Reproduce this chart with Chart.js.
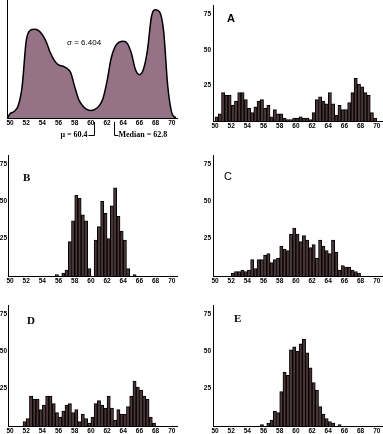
<!DOCTYPE html>
<html>
<head>
<meta charset="utf-8">
<script src="https://cdn.jsdelivr.net/npm/chart.js@4.4.0/dist/chart.umd.min.js"></script>
<style>
body { margin: 0; background: #fff; }
#wrap { position: relative; width: 383px; height: 434px; overflow: hidden; }
canvas { position: absolute; }
</style>
</head>
<body>
<div id="wrap">
<canvas id="dens" width="192" height="145" style="left:0;top:0"></canvas>
<canvas id="histA" width="191" height="145" style="left:192px;top:0"></canvas>
<canvas id="histB" width="192" height="145" style="left:0;top:145px"></canvas>
<canvas id="histC" width="191" height="145" style="left:192px;top:145px"></canvas>
<canvas id="histD" width="192" height="144" style="left:0;top:290px"></canvas>
<canvas id="histE" width="191" height="144" style="left:192px;top:290px"></canvas>
</div>
<script>
var xTicks = [50, 52, 54, 56, 58, 60, 62, 64, 66, 68, 70];
var yTicks = [25, 50, 75];

// histogram bins (0.4 wide), centres
var binCenters = [50.2, 50.6, 51.0, 51.4, 51.8, 52.2, 52.6, 53.0, 53.4, 53.8,
  54.2, 54.6, 55.0, 55.4, 55.8, 56.2, 56.6, 57.0, 57.4, 57.8,
  58.2, 58.6, 59.0, 59.4, 59.8, 60.2, 60.6, 61.0, 61.4, 61.8,
  62.2, 62.6, 63.0, 63.4, 63.8, 64.2, 64.6, 65.0, 65.4, 65.8,
  66.2, 66.6, 67.0, 67.4, 67.8, 68.2, 68.6, 69.0, 69.4, 69.8];

var countsA = [3, 5, 20, 18, 18, 11, 14, 20, 20, 15, 9, 6, 10, 14, 15, 9, 11, 3, 8, 5,
  5, 2, 1, 1, 2, 2, 3, 2, 2, 1, 6, 15, 17, 14, 12, 20, 12, 4, 11, 8,
  8, 13, 20, 30, 26, 24, 20, 18, 6, 2];
var countsB = [0, 0, 0, 0, 0, 0, 0, 0, 0, 0, 0, 0, 0, 0, 1, 0, 2, 4, 23, 37,
  54, 52, 41, 37, 5, 0, 24, 33, 50, 42, 25, 47, 59, 40, 30, 24, 5, 0, 1, 0,
  0, 0, 0, 0, 0, 0, 0, 0, 0, 0];
var countsC = [0, 0, 0, 0, 0, 2, 3, 3, 4, 3, 4, 11, 5, 11, 11, 14, 15, 9, 11, 12,
  20, 18, 17, 28, 32, 28, 23, 27, 24, 19, 21, 12, 24, 20, 17, 15, 24, 16, 4, 7,
  6, 6, 4, 3, 2, 0, 0, 0, 0, 0];
var countsD = [0, 0, 0, 0, 3, 5, 20, 18, 18, 11, 14, 20, 20, 15, 9, 6, 10, 14, 15, 9,
  11, 3, 8, 5, 2, 6, 15, 17, 14, 12, 20, 12, 4, 11, 8, 8, 13, 20, 30, 26,
  24, 20, 18, 6, 2, 0, 0, 0, 0, 0];
var countsE = [0, 0, 0, 0, 0, 0, 0, 0, 0, 0, 0, 0, 0, 0, 1, 0, 2, 4, 10, 9,
  23, 36, 34, 51, 53, 50, 55, 58, 49, 39, 29, 24, 13, 8, 5, 3, 2, 0, 1, 0,
  0, 0, 0, 0, 0, 0, 0, 0, 0, 0];

// population density curve (relative height)
var densityX = [49.7, 50, 50.5, 51, 51.5, 52, 52.5, 53, 53.5, 54, 54.5, 55, 55.5, 56, 56.5, 57, 57.5,
  58, 58.5, 59, 59.5, 60, 60.5, 61, 61.5, 62, 62.5, 63, 63.5, 64, 64.5, 65, 65.5, 66, 66.5,
  67, 67.5, 68, 68.5, 69, 69.5, 70, 70.5];
var densityY = [0, 4, 6, 11, 29, 71, 81, 82, 81, 77, 70, 60, 53, 49, 48, 46, 42,
  29, 17, 11, 8, 7, 8, 11, 18, 34, 55, 66, 70, 71, 69, 60, 45, 40, 45,
  63, 94, 100, 98, 80, 30, 5, 0];

var meanValue = 60.4;
var medianValue = 62.8;
var sigmaText = 'σ = 6.404';

var barColor = '#4a3538';
var densColor = '#967287';
var tickFont = { family: 'Liberation Sans', size: 6.5, weight: 'bold' };

Chart.defaults.color = '#000';

function fixTicks(list) {
  return function(scale) {
    scale.ticks = list.map(function(v) { return { value: v }; });
  };
}

function labelPlugin(text, font, x, y) {
  return {
    id: 'panelLabel',
    afterDraw: function(chart) {
      var ctx = chart.ctx;
      ctx.save();
      ctx.fillStyle = '#000';
      ctx.font = font;
      ctx.textBaseline = 'middle';
      ctx.textAlign = 'left';
      ctx.fillText(text, x, y);
      ctx.restore();
    }
  };
}

function makeHist(id, counts, letter, font, lx, ly, isLeft, padTop, xh) {
  return new Chart(document.getElementById(id), {
    type: 'bar',
    data: {
      datasets: [{
        data: binCenters.map(function(x, i) { return { x: x, y: counts[i] }; }),
        backgroundColor: barColor,
        borderColor: '#000',
        borderWidth: 1,
        barPercentage: 1,
        categoryPercentage: 1
      }]
    },
    options: {
      responsive: false,
      animation: false,
      devicePixelRatio: 1,
      layout: { padding: { top: padTop, right: isLeft ? 15 : 1, left: 0, bottom: 0 } },
      plugins: { legend: { display: false }, tooltip: { enabled: false } },
      scales: {
        x: {
          type: 'linear', min: 49.75, max: 70.65, offset: false,
          grid: { display: false, offset: false, drawTicks: false },
          border: { color: '#000', width: 1 },
          ticks: { font: tickFont, padding: 1, autoSkip: false, maxRotation: 0 },
          afterBuildTicks: fixTicks(xTicks),
          afterFit: function(s) { s.height = xh; }
        },
        y: {
          min: 0, max: 81,
          grid: { display: false, drawTicks: false },
          border: { color: '#000', width: 1 },
          ticks: { font: tickFont, padding: isLeft ? 1 : 2 },
          afterBuildTicks: fixTicks(yTicks),
          afterFit: function(s) { s.width = isLeft ? 8 : 21; }
        }
      }
    },
    plugins: [labelPlugin(letter, font, lx, ly)]
  });
}

var densAnnot = {
  id: 'densAnnot',
  afterDraw: function(chart) {
    var ctx = chart.ctx, xs = chart.scales.x;
    var yb = chart.chartArea.bottom;
    var xm = Math.round(xs.getPixelForValue(meanValue)) + 0.5;
    var xmed = Math.round(xs.getPixelForValue(medianValue)) + 0.5;
    ctx.save();
    ctx.strokeStyle = '#000';
    ctx.lineWidth = 1;
    ctx.beginPath();
    ctx.moveTo(xm, yb + 4); ctx.lineTo(xm, yb + 17.5); ctx.lineTo(xm - 6, yb + 17.5);
    ctx.moveTo(xmed, yb + 4); ctx.lineTo(xmed, yb + 17.5); ctx.lineTo(xmed + 4, yb + 17.5);
    ctx.stroke();
    ctx.fillStyle = '#000';
    ctx.textBaseline = 'middle';
    ctx.font = 'bold 8px "Liberation Serif"';
    ctx.textAlign = 'right';
    ctx.fillText('μ = ' + meanValue, xm - 7, yb + 17);
    ctx.textAlign = 'left';
    ctx.fillText('Median = ' + medianValue, xmed + 4, yb + 17);
    ctx.font = '8px "Liberation Sans"';
    ctx.fillText(sigmaText, 67, 43);
    ctx.restore();
  }
};

new Chart(document.getElementById('dens'), {
  type: 'line',
  data: {
    datasets: [{
      data: densityX.map(function(x, i) { return { x: x, y: densityY[i] }; }),
      borderColor: '#000',
      borderWidth: 1.5,
      backgroundColor: densColor,
      fill: 'origin',
      pointRadius: 0,
      cubicInterpolationMode: 'monotone'
    }]
  },
  options: {
    responsive: false,
    animation: false,
    devicePixelRatio: 1,
    layout: { padding: { top: 0, right: 15, left: 0, bottom: 0 } },
    plugins: { legend: { display: false }, tooltip: { enabled: false } },
    scales: {
      x: {
        type: 'linear', min: 49.63, max: 70.65,
        grid: { display: false, drawTicks: false },
        border: { color: '#000', width: 1 },
        ticks: { font: tickFont, padding: 1, autoSkip: false, maxRotation: 0 },
        afterBuildTicks: fixTicks(xTicks),
        afterFit: function(s) { s.height = 27; }
      },
      y: {
        min: 0, max: 109,
        grid: { display: false, drawTicks: false },
        border: { color: '#000', width: 1 },
        ticks: { display: false },
        afterFit: function(s) { s.width = 7; }
      }
    }
  },
  plugins: [densAnnot]
});

makeHist('histA', countsA, 'A', 'bold 11px "Liberation Sans"', 35, 18.5, false, 0, 24);
makeHist('histB', countsB, 'B', 'bold 11px "Liberation Serif"', 23, 33, true, 10, 14);
makeHist('histC', countsC, 'C', '11px "Liberation Sans"', 32, 32, false, 10, 14);
makeHist('histD', countsD, 'D', 'bold 11px "Liberation Serif"', 27, 31, true, 15, 8);
makeHist('histE', countsE, 'E', 'bold 11px "Liberation Serif"', 42, 29.5, false, 15, 8);
</script>
</body>
</html>
